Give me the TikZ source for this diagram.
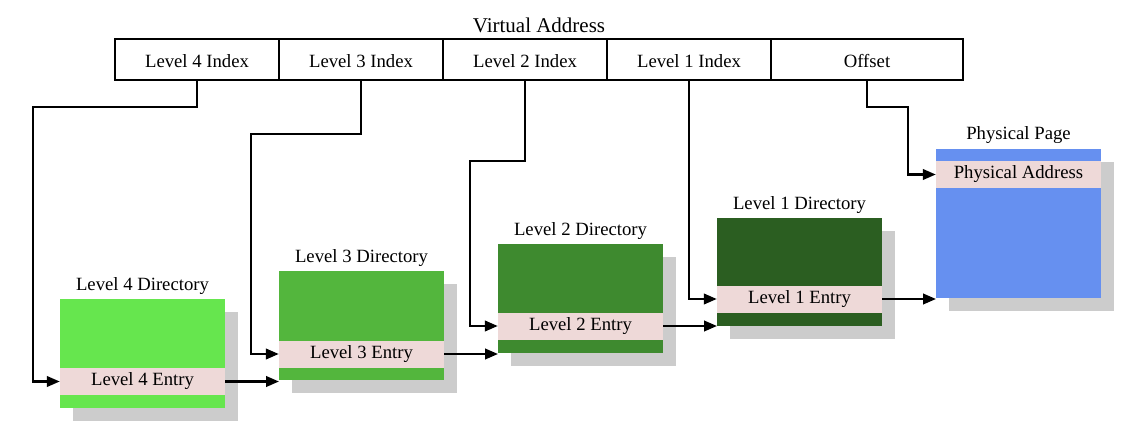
\documentclass[tikz,border=0pt]{standalone}
\usepackage{fontspec}
\setmainfont{Liberation Serif}
\usetikzlibrary{arrows.meta,calc}
\definecolor{cfour}{HTML}{66E64E}
\definecolor{cthree}{HTML}{53B63D}
\definecolor{ctwo}{HTML}{3E8A2F}
\definecolor{cone}{HTML}{2B5E21}
\definecolor{cblue}{HTML}{6690F0}
\definecolor{cpink}{HTML}{EED9D8}
\definecolor{cshadow}{HTML}{CCCCCC}
\tikzset{
  cell/.style={draw=black, line width=1.3pt, minimum height=41pt, inner sep=0pt, text height=17pt, text depth=0pt, font=\fontsize{18.7}{20}\selectfont},
  dirbox/.style={anchor=north west, minimum width=165pt, minimum height=109pt, inner sep=0pt},
  entrybox/.style={fill=cpink, minimum width=165pt, minimum height=27pt, inner sep=0pt, text height=13pt, text depth=4.4pt, font=\fontsize{18.7}{20}\selectfont},
  title/.style={font=\fontsize{18.7}{20}\selectfont, inner sep=0pt, anchor=base},
  arr/.style={line width=2.4pt, -{Triangle[length=13pt,width=10.5pt]}},
}
\begin{document}
\begin{tikzpicture}[x=1pt,y=-1pt]
\useasboundingbox (0,0) rectangle (1138,436);
% virtual address
\node[title, font=\fontsize{21}{22}\selectfont] (vat) at (539,33) {Virtual Address};
\node[cell, minimum width=164pt] (i4) at (197,59.5) {Level 4 Index};
\node[cell, minimum width=164pt] (i3) at (361,59.5) {Level 3 Index};
\node[cell, minimum width=164pt] (i2) at (525,59.5) {Level 2 Index};
\node[cell, minimum width=164pt] (i1) at (689,59.5) {Level 1 Index};
\node[cell, minimum width=192pt] (off) at (867,59.5) {Offset};
% shadows
\fill[cshadow] (73,312) rectangle (238,421);
\fill[cshadow] (292,284) rectangle (457,393);
\fill[cshadow] (511,257) rectangle (676,366);
\fill[cshadow] (730,231) rectangle (895,339);
\fill[cshadow] (949,162) rectangle (1114,311);
% directories
\node[dirbox, fill=cfour] (d4) at (60,299) {};
\node[dirbox, fill=cthree] (d3) at (279,271) {};
\node[dirbox, fill=ctwo] (d2) at (498,244) {};
\node[dirbox, fill=cone, minimum height=108pt] (d1) at (717,218) {};
\node[dirbox, fill=cblue, minimum height=149pt] (pp) at (936,149) {};
% entries
\node[entrybox] (e4) at (142.5,381.5) {Level 4 Entry};
\node[entrybox] (e3) at (361.5,354) {Level 3 Entry};
\node[entrybox] (e2) at (580.5,326) {Level 2 Entry};
\node[entrybox] (e1) at (799.5,299) {Level 1 Entry};
\node[entrybox] (pe) at (1018.5,174.5) {Physical Address};
% titles
\node[title] (t4) at (142.5,290) {Level 4 Directory};
\node[title] (t3) at (361.5,262) {Level 3 Directory};
\node[title] (t2) at (580.5,235) {Level 2 Directory};
\node[title] (t1) at (799.5,209) {Level 1 Directory};
\node[title] (tp) at (1018.5,139) {Physical Page};
% bend coordinates
\coordinate (b4) at (33,107);
\coordinate (b3) at (251,134);
\coordinate (b2) at (470,161);
\coordinate (bo) at (908,107);
% connectors
\draw[arr] (i4.south) |- (b4) |- (e4.west);
\draw[arr] (i3.south) |- (b3) |- (e3.west);
\draw[arr] (i2.south) |- (b2) |- (e2.west);
\draw[arr] (i1.south) |- (e1.west);
\draw[arr] (off.south) |- (bo) |- (pe.west);
\draw[arr] (e4.east) -- (e4.east -| d3.west);
\draw[arr] (e3.east) -- (e3.east -| d2.west);
\draw[arr] (e2.east) -- (e2.east -| d1.west);
\draw[arr] (e1.east) -- (e1.east -| pp.west);
\end{tikzpicture}
\end{document}
